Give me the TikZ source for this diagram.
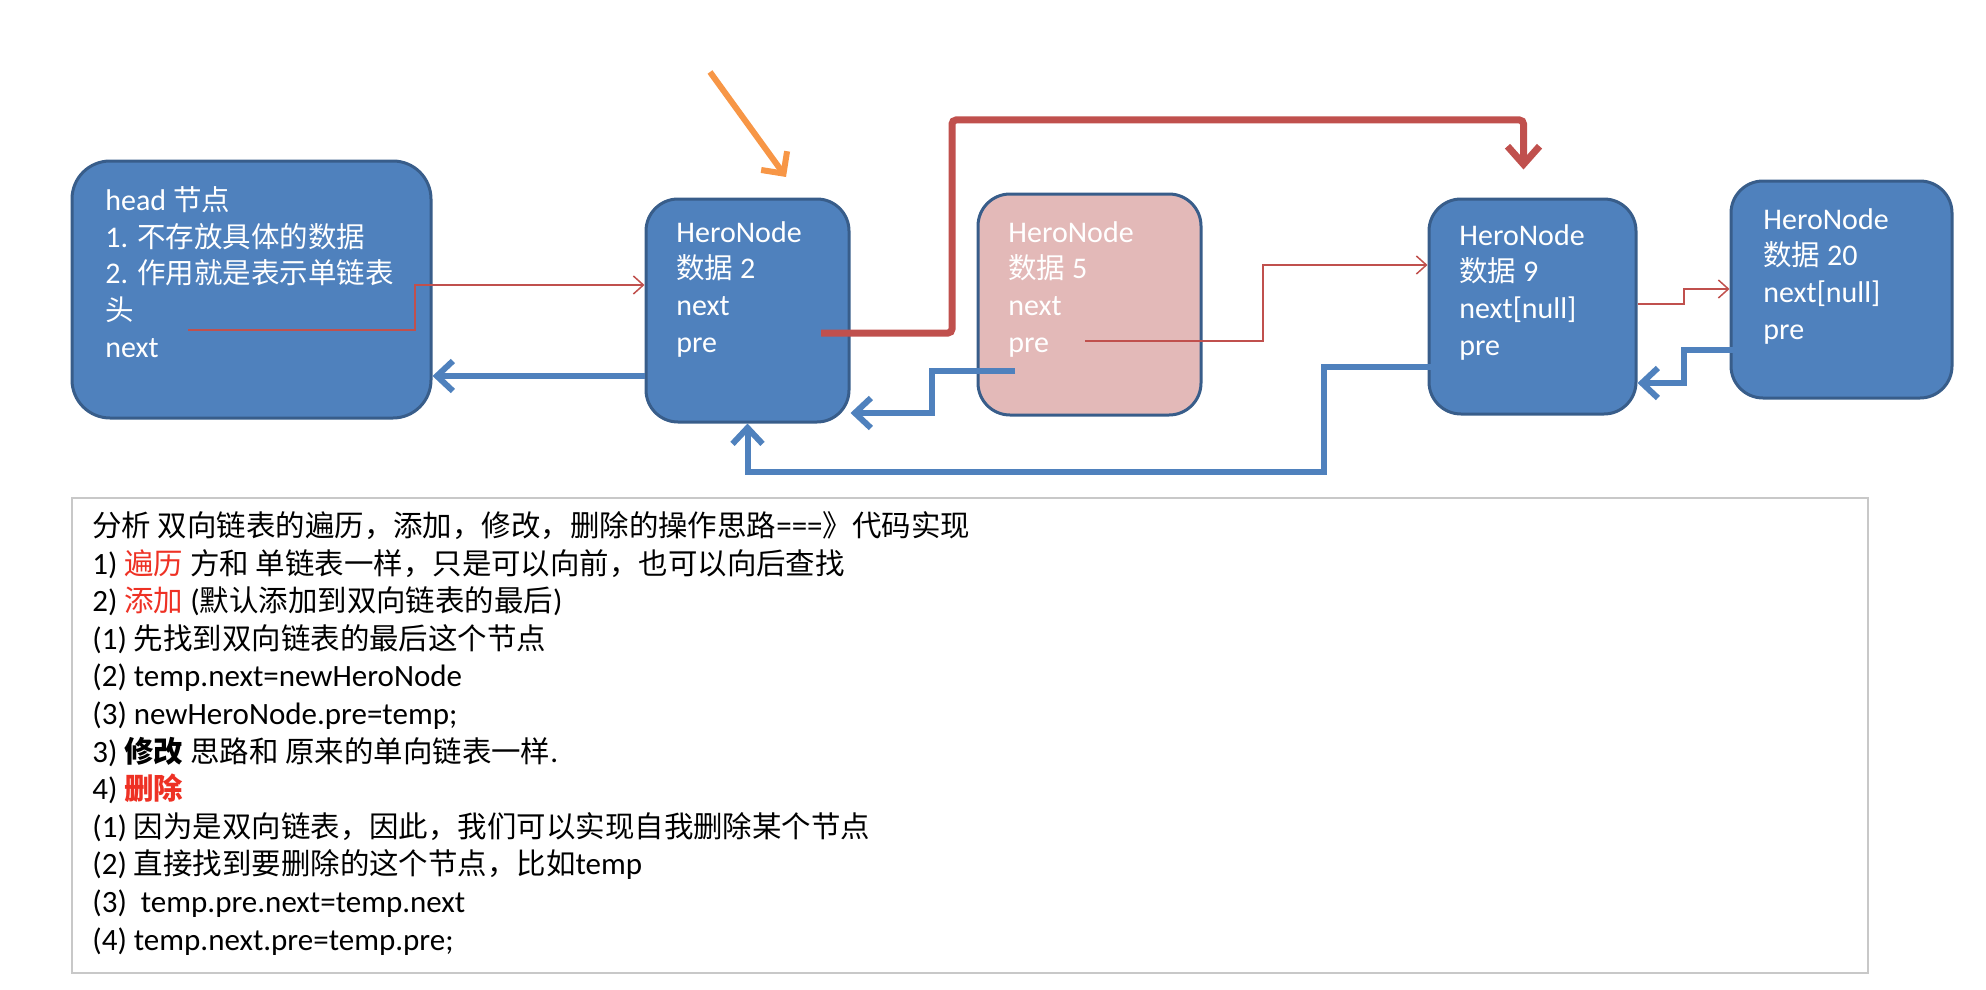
\documentclass[tikz,border=0pt]{standalone}
\usepackage{fontspec}
\setmainfont{Carlito}
\newfontfamily\cjk[Scale=0.95]{Noto Sans CJK SC}
\newcommand{\zh}[1]{{\cjk #1}}
\usepackage{tikz}
\usetikzlibrary{arrows.meta}
\usepackage{xcolor}
\definecolor{nodeblue}{HTML}{4F81BD}
\definecolor{nodeedge}{HTML}{385D8A}
\definecolor{delpink}{HTML}{E3B9B8}
\definecolor{linkred}{HTML}{C0504D}
\definecolor{ptrorange}{HTML}{F79646}
\definecolor{hotred}{HTML}{EE3124}
\definecolor{boxgray}{HTML}{C8C8C8}

\begin{document}
\begin{tikzpicture}[x=0.5pt,y=-0.5pt]
\tikzstyle{hero}=[rectangle, draw=nodeedge, line width=1.5pt, fill=nodeblue, rounded corners=16pt]
\tikzstyle{herotext}=[anchor=base west, align=left, inner sep=0pt, text=white, font=\fontsize{15pt}{18.3pt}\selectfont]
\tikzstyle{nextthin}=[draw=linkred, line width=0.75pt, -{Straight Barb[length=5pt,width=9pt]}]
\tikzstyle{nextthick}=[draw=linkred, line width=3.5pt, -{Straight Barb[length=9pt,width=16pt]}]
\tikzstyle{prethick}=[draw=nodeblue, line width=3pt, -{Straight Barb[length=8pt,width=15pt]}]
\tikzstyle{pointer}=[draw=ptrorange, line width=3pt, -{Straight Barb[length=8pt,width=16pt]}]
\useasboundingbox (0,0) rectangle (1986,990);

% the list
\node[hero, rounded corners=19pt, minimum width=179.5pt, minimum height=128.5pt] (head) at (251.5,289.5) {};
\node[hero, minimum width=101.5pt, minimum height=111.5pt] (n2) at (747.5,310.5) {};
\node[hero, fill=delpink, minimum width=111.5pt, minimum height=110.5pt] (n5) at (1089.5,304.5) {};
\node[hero, minimum width=103.5pt, minimum height=107.5pt] (n9) at (1532.5,306.5) {};
\node[hero, minimum width=110.5pt, minimum height=108.5pt] (n20) at (1841.5,289.5) {};

% text is anchored at the baseline of its last line
\node[herotext] (headtxt) at (105,357) {head \zh{节点}\\1. \zh{不存放具体的数据}\\2. \zh{作用就是表示单链表}\\\zh{头}\\next};
\node[herotext] (n2txt) at (676,352) {HeroNode\\\zh{数据} 2\\next\\pre};
\node[herotext] (n5txt) at (1008,352) {HeroNode\\\zh{数据} 5\\next\\pre};
\node[herotext] (n9txt) at (1459,355) {HeroNode\\\zh{数据} 9\\next[null]\\pre};
\node[herotext] (n20txt) at (1763,339) {HeroNode\\\zh{数据} 20\\next[null]\\pre};

% where the links leave the nodes
\coordinate (hnext) at (188,330);
\coordinate (n2next) at (821,333);
\coordinate (n5next) at (1085,341);
\coordinate (n5pre) at (1015,371);
\coordinate (n9pre) at (1446,367);
\coordinate (n20pre) at (1738,350);
\coordinate (ptrtail) at (710,72);
\coordinate (ptrtip) at (786,177);

\draw[pointer] (ptrtail) -- (ptrtip);

% next
\draw[nextthin] (hnext) -| (415,285) -- (n2.west |- 415,285);
\draw[nextthick, rounded corners=2pt, shorten >=14pt] (n2next) -| (952,120) -| ([xshift=-4.5pt]n9.north);
\draw[nextthin] (n5next) -| (1263,265) -- (n9.west |- 1263,265);
\draw[nextthin] (n9.east |- 0,304) -| (1684,289) -- (n20.west |- 0,289);

% pre
\draw[prethick] (n2.west |- 0,376) -- (head.east |- 0,376);
\draw[prethick] (n5pre) -| (932,413) -- (n2.east |- 0,413);
\draw[prethick] (n9pre) -| (1324,472) -| (n2.south);
\draw[prethick] (n20pre) -| (1684,383) -- (n9.east |- 0,383);

% notes
\node[draw=boxgray, line width=0.75pt, minimum width=898pt, minimum height=237.5pt] (notebox) at (970,735.5) {};
\node[anchor=base west, align=left, inner sep=0pt, font=\fontsize{15.5pt}{18.8pt}\selectfont] (notes) at (92,950) {%
\zh{分析 双向链表的遍历，添加，修改，删除的操作思路}===\zh{》代码实现}\\
1) \textcolor{hotred}{\zh{遍历}} \zh{方和 单链表一样，只是可以向前，也可以向后查找}\\
2) \textcolor{hotred}{\zh{添加}} (\zh{默认添加到双向链表的最后})\\
(1) \zh{先找到双向链表的最后这个节点}\\
(2) temp.next=newHeroNode\\
(3) newHeroNode.pre=temp;\\
3) \textbf{\zh{修改}} \zh{思路和 原来的单向链表一样}.\\
4) \textcolor{hotred}{\textbf{\zh{删除}}}\\
(1) \zh{因为是双向链表，因此，我们可以实现自我删除某个节点}\\
(2) \zh{直接找到要删除的这个节点，比如}temp\\
(3) \ temp.pre.next=temp.next\\
(4) temp.next.pre=temp.pre;};
\end{tikzpicture}
\end{document}
